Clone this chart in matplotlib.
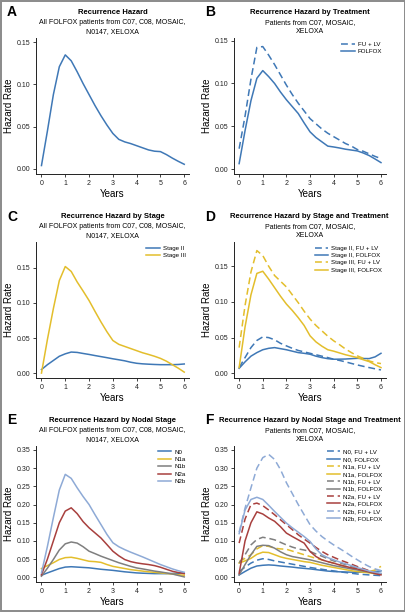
import matplotlib
matplotlib.use("Agg")
import matplotlib.pyplot as plt
from matplotlib.patches import Rectangle

plt.rcParams['font.family'] = ['Liberation Sans Narrow', 'Liberation Sans', 'DejaVu Sans']

BLUE = '#3f78b6'
YELLOW = '#e3be2c'
GRAY = '#7f7f7f'
RED = '#a8403e'
LBLUE = '#8eaad6'

years = [0, 0.25, 0.5, 0.75, 1.0, 1.25, 1.5, 1.75, 2.0, 2.25, 2.5, 2.75, 3.0,
         3.25, 3.5, 3.75, 4.0, 4.25, 4.5, 4.75, 5.0, 5.25, 5.5, 5.75, 6.0]

# Panel A
a_folfox = [0.004, 0.045, 0.088, 0.121, 0.135, 0.128, 0.115, 0.101, 0.088, 0.075, 0.063, 0.052, 0.042,
            0.035, 0.032, 0.030, 0.0275, 0.025, 0.0225, 0.021, 0.0205, 0.017, 0.0128, 0.009, 0.0055]

# Panel B
b_fulv = [0.024, 0.062, 0.105, 0.142, 0.143, 0.133, 0.122, 0.110, 0.098, 0.087, 0.077, 0.068, 0.059,
          0.053, 0.047, 0.042, 0.038, 0.034, 0.030, 0.027, 0.023, 0.021, 0.018, 0.015, 0.0125]
b_folfox = [0.0066, 0.045, 0.080, 0.106, 0.115, 0.108, 0.100, 0.090, 0.081, 0.073, 0.065, 0.054, 0.0436,
            0.037, 0.032, 0.027, 0.026, 0.0248, 0.0234, 0.0224, 0.0214, 0.019, 0.016, 0.012, 0.0078]

# Panel C
c_stage2 = [0.005, 0.012, 0.018, 0.024, 0.0275, 0.030, 0.0295, 0.028, 0.0266, 0.025, 0.0235, 0.022, 0.0204,
            0.019, 0.0175, 0.0155, 0.014, 0.0132, 0.0127, 0.0123, 0.012, 0.012, 0.012, 0.0123, 0.013]
c_stage3 = [0.0, 0.048, 0.092, 0.132, 0.152, 0.145, 0.130, 0.117, 0.1035, 0.088, 0.073, 0.059, 0.0465,
            0.041, 0.038, 0.035, 0.032, 0.029, 0.0266, 0.024, 0.021, 0.017, 0.012, 0.007, 0.0014]

# Panel D
d_s2_fulv = [0.008, 0.022, 0.036, 0.046, 0.051, 0.050, 0.047, 0.042, 0.0384, 0.035, 0.032, 0.030, 0.028,
             0.026, 0.024, 0.022, 0.0197, 0.018, 0.016, 0.0138, 0.0117, 0.0098, 0.008, 0.0063, 0.0047]
d_s2_folfox = [0.007, 0.016, 0.024, 0.029, 0.033, 0.035, 0.036, 0.0345, 0.033, 0.031, 0.029, 0.028, 0.0267,
               0.024, 0.022, 0.0205, 0.0197, 0.0198, 0.020, 0.0205, 0.021, 0.0207, 0.0206, 0.023, 0.028]
d_s3_fulv = [0.036, 0.095, 0.142, 0.172, 0.165, 0.150, 0.137, 0.129, 0.121, 0.110, 0.099, 0.087, 0.076,
             0.067, 0.0595, 0.052, 0.0455, 0.040, 0.034, 0.029, 0.0244, 0.021, 0.0173, 0.015, 0.0136]
d_s3_folfox = [0.008, 0.065, 0.110, 0.140, 0.143, 0.132, 0.120, 0.108, 0.097, 0.088, 0.078, 0.067, 0.0525,
               0.044, 0.038, 0.033, 0.031, 0.0285, 0.026, 0.024, 0.022, 0.019, 0.0164, 0.012, 0.008]

# Panel E
e_n0 = [0.0055, 0.012, 0.018, 0.024, 0.028, 0.029, 0.028, 0.027, 0.026, 0.024, 0.022, 0.0205, 0.019,
        0.017, 0.015, 0.0135, 0.012, 0.0112, 0.0106, 0.010, 0.010, 0.010, 0.0105, 0.011, 0.012]
e_n1a = [0.024, 0.032, 0.040, 0.049, 0.054, 0.055, 0.052, 0.048, 0.044, 0.043, 0.041, 0.035, 0.030,
         0.027, 0.024, 0.021, 0.019, 0.017, 0.015, 0.0135, 0.012, 0.0105, 0.009, 0.007, 0.0055]
e_n1b = [0.003, 0.025, 0.049, 0.075, 0.092, 0.097, 0.094, 0.084, 0.0717, 0.065, 0.058, 0.052, 0.046,
         0.040, 0.035, 0.030, 0.0257, 0.023, 0.020, 0.017, 0.0147, 0.012, 0.009, 0.005, 0.001]
e_n2a = [0.007, 0.050, 0.100, 0.150, 0.182, 0.191, 0.175, 0.153, 0.136, 0.122, 0.108, 0.090, 0.0717,
         0.059, 0.0487, 0.043, 0.0395, 0.037, 0.035, 0.032, 0.0276, 0.022, 0.0165, 0.013, 0.010]
e_n2b = [0.012, 0.085, 0.164, 0.240, 0.283, 0.272, 0.246, 0.222, 0.200, 0.172, 0.145, 0.118, 0.095,
         0.084, 0.076, 0.069, 0.0625, 0.056, 0.049, 0.042, 0.035, 0.029, 0.023, 0.018, 0.0138]

# Panel F
f_n0_fulv = [0.0157, 0.028, 0.039, 0.047, 0.051, 0.049, 0.045, 0.042, 0.039, 0.036, 0.033, 0.030, 0.027,
             0.0245, 0.022, 0.0195, 0.0175, 0.015, 0.013, 0.011, 0.009, 0.0077, 0.0065, 0.0055, 0.0046]
f_n0_folfox = [0.0065, 0.016, 0.025, 0.031, 0.033, 0.034, 0.033, 0.031, 0.0295, 0.028, 0.026, 0.0245, 0.023,
               0.021, 0.019, 0.017, 0.0157, 0.015, 0.0145, 0.014, 0.0138, 0.014, 0.0148, 0.016, 0.0175]
f_n1a_fulv = [0.043, 0.052, 0.062, 0.078, 0.087, 0.085, 0.080, 0.078, 0.077, 0.072, 0.067, 0.062, 0.057,
              0.052, 0.048, 0.043, 0.039, 0.034, 0.029, 0.024, 0.020, 0.017, 0.0157, 0.020, 0.030]
f_n1a_folfox = [0.039, 0.045, 0.052, 0.063, 0.069, 0.068, 0.062, 0.056, 0.052, 0.049, 0.046, 0.043, 0.041,
                0.037, 0.033, 0.030, 0.027, 0.024, 0.021, 0.018, 0.0157, 0.014, 0.012, 0.010, 0.009]
f_n1b_fulv = [0.039, 0.062, 0.089, 0.104, 0.110, 0.107, 0.103, 0.096, 0.089, 0.083, 0.078, 0.075, 0.071,
              0.064, 0.058, 0.051, 0.045, 0.040, 0.035, 0.030, 0.025, 0.021, 0.017, 0.013, 0.009]
f_n1b_folfox = [0.0065, 0.035, 0.062, 0.085, 0.088, 0.087, 0.080, 0.070, 0.062, 0.057, 0.054, 0.051, 0.048,
                0.044, 0.040, 0.036, 0.032, 0.029, 0.026, 0.023, 0.020, 0.017, 0.014, 0.011, 0.009]
f_n2a_fulv = [0.094, 0.160, 0.200, 0.204, 0.197, 0.185, 0.172, 0.158, 0.1446, 0.131, 0.117, 0.105, 0.094,
              0.082, 0.071, 0.062, 0.055, 0.048, 0.042, 0.036, 0.0295, 0.024, 0.018, 0.013, 0.009]
f_n2a_folfox = [0.011, 0.100, 0.150, 0.180, 0.174, 0.163, 0.154, 0.139, 0.1215, 0.112, 0.103, 0.094, 0.071,
                0.057, 0.048, 0.043, 0.0387, 0.034, 0.030, 0.026, 0.023, 0.019, 0.015, 0.010, 0.0065]
f_n2b_fulv = [0.124, 0.190, 0.246, 0.300, 0.329, 0.338, 0.324, 0.296, 0.260, 0.230, 0.200, 0.172, 0.1446,
              0.127, 0.112, 0.100, 0.089, 0.079, 0.069, 0.058, 0.048, 0.038, 0.0295, 0.023, 0.0184]
f_n2b_folfox = [0.120, 0.185, 0.214, 0.220, 0.214, 0.198, 0.181, 0.165, 0.149, 0.136, 0.124, 0.112, 0.0985,
                0.078, 0.062, 0.054, 0.048, 0.042, 0.037, 0.032, 0.0267, 0.022, 0.017, 0.014, 0.011]

x_ticks = [0, 1, 2, 3, 4, 5, 6]

fig = plt.figure(figsize=(4.06, 6.12), dpi=100)
W, H = 406.0, 612.0

def px_axes(left, top, right, bottom):
    return fig.add_axes([left / W, 1 - bottom / H, (right - left) / W, (bottom - top) / H])

cols = [(36, 189), (233.7, 385.7)]
rows = [(38, 174), (242, 378), (446, 582)]

titles = [
    ("A", "Recurrence Hazard", "All FOLFOX patients from C07, C08, MOSAIC,\nN0147, XELOXA"),
    ("B", "Recurrence Hazard by Treatment", "Patients from C07, MOSAIC,\nXELOXA"),
    ("C", "Recurrence Hazard by Stage", "All FOLFOX patients from C07, C08, MOSAIC,\nN0147, XELOXA"),
    ("D", "Recurrence Hazard by Stage and Treatment", "Patients from C07, MOSAIC,\nXELOXA"),
    ("E", "Recurrence Hazard by Nodal Stage", "All FOLFOX patients from C07, C08, MOSAIC,\nN0147, XELOXA"),
    ("F", "Recurrence Hazard by Nodal Stage and Treatment", "Patients from C07, MOSAIC,\nXELOXA"),
]
ylims = [(-0.006, 0.155), (-0.0055, 0.153), (-0.007, 0.187), (-0.0066, 0.184), (-0.013, 0.361), (-0.013, 0.361)]
yticks = [[0, 0.05, 0.10, 0.15], [0, 0.05, 0.10, 0.15], [0, 0.05, 0.10, 0.15], [0, 0.05, 0.10, 0.15],
          [0, 0.05, 0.10, 0.15, 0.20, 0.25, 0.30, 0.35], [0, 0.05, 0.10, 0.15, 0.20, 0.25, 0.30, 0.35]]

axes = []
for i in range(6):
    r, c = divmod(i, 2)
    l, rr = cols[c]
    t, b = rows[r]
    ax = px_axes(l, t, rr, b)
    axes.append(ax)
    ax.set_xlim(-0.23, 6.2)
    ax.set_ylim(*ylims[i])
    ax.set_xticks(x_ticks)
    ax.set_yticks(yticks[i])
    ax.set_yticklabels([f"{v:.2f}" for v in yticks[i]])
    ax.tick_params(labelsize=5, length=2.5, width=0.6, pad=1.5, colors='#222222')
    for s in ['top', 'right']:
        ax.spines[s].set_visible(False)
    for s in ['left', 'bottom']:
        ax.spines[s].set_linewidth(0.7)
        ax.spines[s].set_color('#222222')
    ax.set_xlabel("Years", fontsize=7, labelpad=2)
    ax.set_ylabel("Hazard Rate", fontsize=7, labelpad=2)
    letter, title, sub = titles[i]
    cx = (l + rr) / 2
    fig.text(cx / W, 1 - (t - 25.3) / H, title, fontsize=5.5, fontweight='bold', ha='center', va='center')
    fig.text(cx / W, 1 - (t - 11) / H, sub, fontsize=5, ha='center', va='center', linespacing=1.35)
    lx = 7 if c == 0 else 205
    fig.text(lx / W, 1 - (t - 25.5) / H, letter, fontsize=10, fontweight='bold', ha='left', va='center',
             family=['Liberation Sans', 'DejaVu Sans'])

lw = 1.1
DASH = (0, (4.5, 2.5))
ax = axes[0]
ax.plot(years, a_folfox, color=BLUE, lw=lw)

ax = axes[1]
ax.plot(years, b_fulv, color=BLUE, lw=lw, ls=DASH, label="FU + LV")
ax.plot(years, b_folfox, color=BLUE, lw=lw, label="FOLFOX")

ax = axes[2]
ax.plot(years, c_stage2, color=BLUE, lw=lw, label="Stage II")
ax.plot(years, c_stage3, color=YELLOW, lw=lw, label="Stage III")

ax = axes[3]
ax.plot(years, d_s2_fulv, color=BLUE, lw=lw, ls=DASH, label="Stage II, FU + LV")
ax.plot(years, d_s2_folfox, color=BLUE, lw=lw, label="Stage II, FOLFOX")
ax.plot(years, d_s3_fulv, color=YELLOW, lw=lw, ls=DASH, label="Stage III, FU + LV")
ax.plot(years, d_s3_folfox, color=YELLOW, lw=lw, label="Stage III, FOLFOX")

ax = axes[4]
for ys, col, lab in [(e_n0, BLUE, "N0"), (e_n1a, YELLOW, "N1a"), (e_n1b, GRAY, "N1b"),
                     (e_n2a, RED, "N2a"), (e_n2b, LBLUE, "N2b")]:
    ax.plot(years, ys, color=col, lw=lw, label=lab)

ax = axes[5]
for ys, col, lab, dashed in [
        (f_n0_fulv, BLUE, "N0, FU + LV", True), (f_n0_folfox, BLUE, "N0, FOLFOX", False),
        (f_n1a_fulv, YELLOW, "N1a, FU + LV", True), (f_n1a_folfox, YELLOW, "N1a, FOLFOX", False),
        (f_n1b_fulv, GRAY, "N1b, FU + LV", True), (f_n1b_folfox, GRAY, "N1b, FOLFOX", False),
        (f_n2a_fulv, RED, "N2a, FU + LV", True), (f_n2a_folfox, RED, "N2a, FOLFOX", False),
        (f_n2b_fulv, LBLUE, "N2b, FU + LV", True), (f_n2b_folfox, LBLUE, "N2b, FOLFOX", False)]:
    ax.plot(years, ys, color=col, lw=lw, ls=DASH if dashed else '-', label=lab)

for i in [1, 2, 3, 4, 5]:
    axes[i].legend(loc='upper right', bbox_to_anchor=(1.0, 1.0), frameon=False, fontsize=4.4,
                   handlelength=2.2, handletextpad=0.5, labelspacing=0.35, borderaxespad=0.15)

fig.add_artist(Rectangle((0.002, 0.002), 0.996, 0.996, transform=fig.transFigure, fill=False,
                         edgecolor='#8a8a8a', lw=1.4))

fig.savefig("out.png", dpi=100)
